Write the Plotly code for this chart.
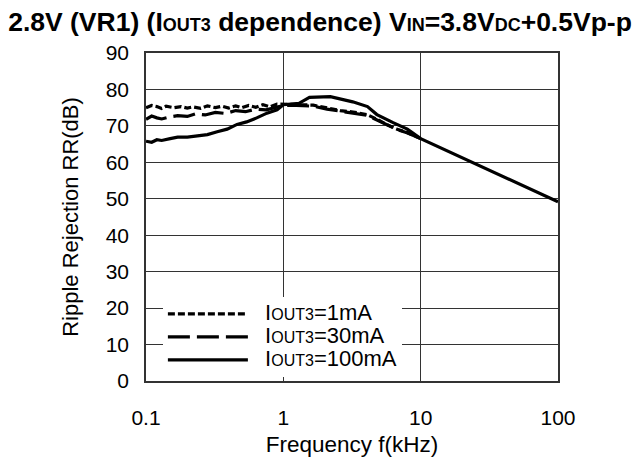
import plotly.graph_objects as go

# Ripple rejection vs. frequency for three output currents
freq_1ma = [0.1, 0.11, 0.12, 0.13, 0.14, 0.16, 0.18, 0.2, 0.22, 0.25, 0.28, 0.32,
            0.36, 0.4, 0.45, 0.5, 0.56, 0.63, 0.71, 0.8, 0.9, 1.0, 1.12, 1.3,
            1.65, 2.08, 2.59, 3.22, 4.07, 4.81, 5.69, 6.73, 7.96, 10]
rr_1ma = [75.0, 75.6, 75.3, 74.8, 75.4, 75.0, 75.3, 74.9, 75.2, 74.8, 75.5, 75.0,
          75.4, 74.9, 75.5, 75.0, 75.6, 75.1, 75.8, 75.2, 76.0, 75.9, 75.8, 75.8,
          75.7, 74.9, 74.2, 73.8, 73.1, 71.8, 70.3, 69.1, 68.2, 66.5]

freq_30ma = [0.1, 0.11, 0.12, 0.13, 0.15, 0.17, 0.2, 0.23, 0.27, 0.32, 0.38, 0.45,
             0.53, 0.63, 0.75, 0.9, 1.0, 1.12, 1.3, 1.65, 2.08, 2.59, 3.22, 4.07,
             4.81, 5.69, 6.73, 7.96, 10]
rr_30ma = [71.8, 72.7, 72.2, 71.9, 72.5, 72.8, 72.6, 73.3, 73.0, 73.7, 73.4, 74.2,
           73.9, 74.6, 74.4, 75.3, 75.6, 75.7, 75.5, 75.4, 74.6, 74.0, 73.6, 72.9,
           71.6, 70.2, 69.0, 68.1, 66.5]

freq_100ma = [0.1, 0.11, 0.12, 0.13, 0.15, 0.17, 0.2, 0.24, 0.28, 0.33, 0.39, 0.46,
              0.54, 0.64, 0.76, 0.9, 1.0, 1.3, 1.55, 2.2, 3.2, 4.1, 4.8, 6.3, 8.0,
              10, 20, 30, 50, 100]
rr_100ma = [65.8, 65.5, 66.2, 66.0, 66.5, 66.9, 66.9, 67.3, 67.6, 68.4, 69.1, 70.4,
            71.1, 72.2, 73.5, 74.4, 75.8, 76.2, 77.8, 78.0, 76.6, 75.3, 73.1, 70.9,
            69.1, 66.5, 61.3, 58.3, 54.5, 49.2]

x_tickvals = [0.1, 1, 10, 100]
x_ticktext = ["0.1", "1", "10", "100"]
y_tickvals = [0, 10, 20, 30, 40, 50, 60, 70, 80, 90]

FONT = "Liberation Sans, Arial, sans-serif"


def legend_label(current):
    big = "<span style='font-size:22px'>{}</span>"
    small = "<span style='font-size:16px'>{}</span>"
    return big.format("&nbsp;&nbsp;I") + small.format("OUT3") + big.format("=" + current)


series = [
    (freq_1ma, rr_1ma, legend_label("1mA"), "7px,3px"),
    (freq_30ma, rr_30ma, legend_label("30mA"), "22px,7px"),
    (freq_100ma, rr_100ma, legend_label("100mA"), "solid"),
]

fig = go.Figure()
for fx, fy, name, dash in series:
    fig.add_trace(go.Scatter(
        x=fx, y=fy, mode="lines", name=name,
        line=dict(color="black", width=3.2, dash=dash),
    ))

title_small = "<span style='font-size:18px'>{}</span>"
title = ("<b>2.8V (VR1) (I" + title_small.format("OUT3") + " dependence) V"
         + title_small.format("IN") + "=3.8V" + title_small.format("DC")
         + "+0.5Vp-p</b>")

fig.update_layout(
    width=640, height=465,
    margin=dict(l=146, r=82, t=53, b=73),
    paper_bgcolor="white", plot_bgcolor="white",
    font=dict(family=FONT, size=21, color="black"),
    title=dict(text=title, x=0.5, xref="container", xanchor="center",
               y=1 - 22 / 465, yref="container", yanchor="middle",
               font=dict(family=FONT, size=26.5, color="black")),
    showlegend=True,
    legend=dict(x=0.041, y=0.011, xanchor="left", yanchor="bottom",
                bgcolor="white", borderwidth=0, itemwidth=80,
                font=dict(family=FONT, size=15.4, color="black"),
                tracegroupgap=0),
)

fig.update_xaxes(
    type="log", range=[-1, 2],
    tickvals=x_tickvals, ticktext=x_ticktext,
    tickfont=dict(family=FONT, size=21),
    showgrid=True, gridcolor="#333333", gridwidth=1.3,
    showline=True, linecolor="#333333", linewidth=1.5, mirror=True,
    ticks="outside", ticklen=17, tickcolor="rgba(0,0,0,0)",
    title=dict(text="Frequency f(kHz)", font=dict(family=FONT, size=22.5), standoff=8),
    zeroline=False,
)
fig.update_yaxes(
    range=[0, 90], tickvals=y_tickvals,
    tickfont=dict(family=FONT, size=21),
    showgrid=True, gridcolor="#333333", gridwidth=1.3,
    showline=True, linecolor="#333333", linewidth=1.5, mirror=True,
    ticks="outside", ticklen=11, tickcolor="rgba(0,0,0,0)",
    title=dict(text="Ripple Rejection RR(dB)", font=dict(family=FONT, size=22), standoff=21),
    zeroline=False,
)

fig.write_html("out.html")
